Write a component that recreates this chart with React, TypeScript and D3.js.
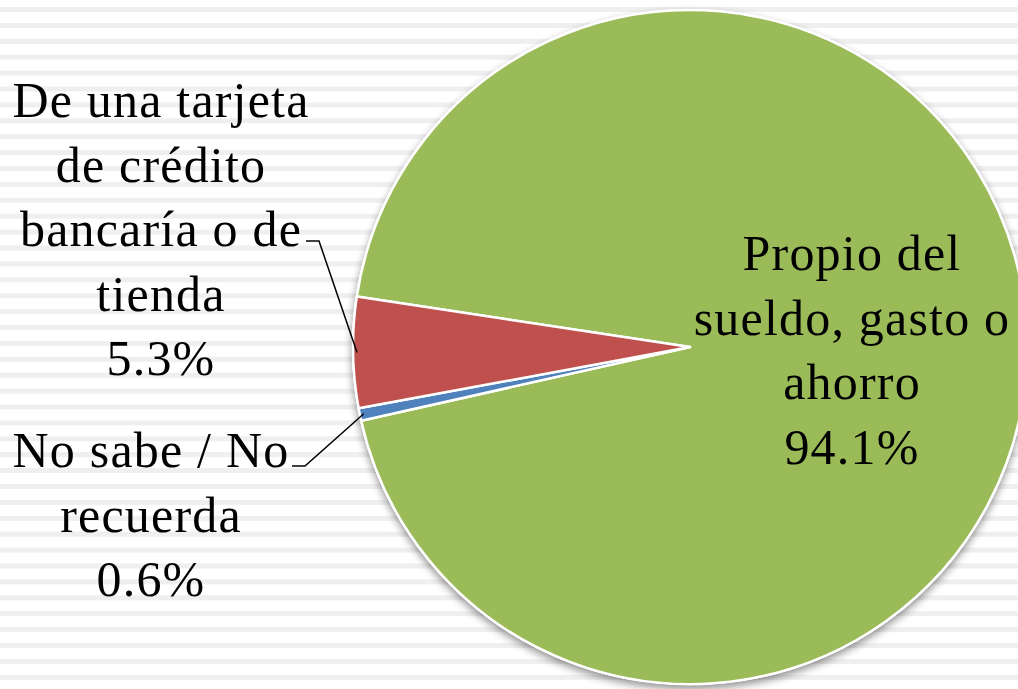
import React from "react";
import * as d3 from "d3";

const categories = [
  "Propio del sueldo, gasto o ahorro",
  "No sabe / No recuerda",
  "De una tarjeta de crédito bancaría o de tienda",
];
const values = [94.1, 0.6, 5.3];
const colors = ["#9BBB59", "#4F81BD", "#C0504D"];
const labelLines = [
  ["Propio del", "sueldo, gasto o", "ahorro", "94.1%"],
  ["No sabe / No", "recuerda", "0.6%"],
  ["De una tarjeta", "de crédito", "bancaría o de", "tienda", "5.3%"],
];

const W = 1018;
const H = 689;
const cx = 690;
const cy = 347;
const R = 337;
const startDeg = 278.6;
const FONT = "'Liberation Serif', 'DejaVu Serif', serif";
const FS = 50;
const LH = 64.5;

export default function App() {
  const pie = d3
    .pie<number>()
    .sort(null)
    .value((d) => d)
    .startAngle((startDeg * Math.PI) / 180)
    .endAngle((startDeg * Math.PI) / 180 + 2 * Math.PI);
  const arcs = pie(values);
  const arc = d3.arc<d3.PieArcDatum<number>>().innerRadius(0).outerRadius(R);
  const stripes = d3.range(0, 44).map((k) => 7 + k * 15.9);

  const labelPos = [
    { x: 852, y: 270, leader: null as null | { tx: number; ty: number } },
    { x: 151, y: 467, leader: { tx: 292, ty: 466 } },
    { x: 161, y: 117, leader: { tx: 306, ty: 241 } },
  ];

  const edgePoint = (i: number, frac: number, r: number) => {
    const a = arcs[i].startAngle + (arcs[i].endAngle - arcs[i].startAngle) * frac;
    return [cx + r * Math.sin(a), cy - r * Math.cos(a)];
  };

  return (
    <svg width={W} height={H} style={{ position: "absolute", left: 0, top: 0, display: "block" }}>
      <defs>
        <filter id="sh" x="-20%" y="-20%" width="140%" height="140%">
          <feGaussianBlur in="SourceAlpha" stdDeviation="4" />
          <feOffset dx="0" dy="4" result="b" />
          <feComponentTransfer>
            <feFuncA type="linear" slope="0.45" />
          </feComponentTransfer>
          <feMerge>
            <feMergeNode />
            <feMergeNode in="SourceGraphic" />
          </feMerge>
        </filter>
      </defs>
      <rect x={0} y={0} width={W} height={H} fill="#ffffff" />
      {stripes.map((y, i) => (
        <rect key={i} x={0} y={y} width={W} height={5} fill="#efefef" />
      ))}
      <g filter="url(#sh)">
        <circle cx={cx} cy={cy} r={R + 1} fill="#ffffff" />
      </g>
      <g transform={`translate(${cx},${cy})`}>
        {arcs.map((a, i) => (
          <path
            key={categories[i]}
            d={arc(a) || ""}
            fill={colors[i]}
            stroke="#ffffff"
            strokeWidth={2.5}
            strokeLinejoin="round"
          />
        ))}
      </g>
      {labelPos.map((p, i) => {
        if (!p.leader) return null;
        const [ex, ey] = edgePoint(i, 0.5, R - 4);
        return (
          <polyline
            key={"l" + i}
            points={`${p.leader.tx},${p.leader.ty} ${p.leader.tx + 13},${p.leader.ty} ${ex},${ey}`}
            fill="none"
            stroke="#000"
            strokeWidth={1.5}
          />
        );
      })}
      {labelPos.map((p, i) => (
        <text
          key={"t" + i}
          x={p.x}
          y={p.y}
          textAnchor="middle"
          fontFamily={FONT}
          fontSize={FS}
          letterSpacing={1.2}
          fill="#000"
        >
          {labelLines[i].map((ln, j) => (
            <tspan key={j} x={p.x} y={p.y + j * LH}>
              {ln}
            </tspan>
          ))}
        </text>
      ))}
    </svg>
  );
}
